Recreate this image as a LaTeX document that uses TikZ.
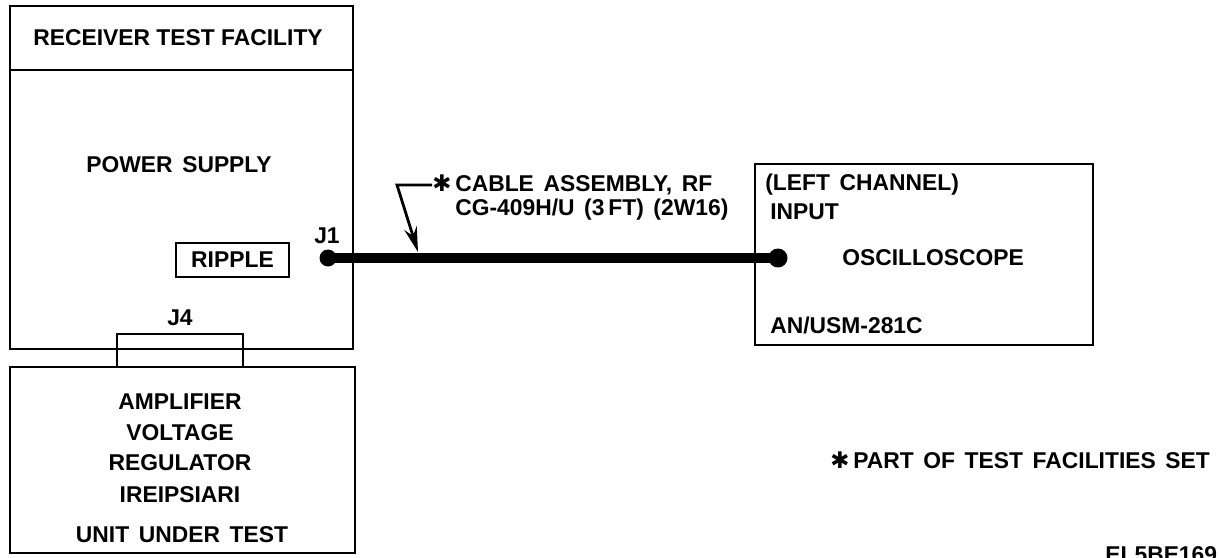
\documentclass[tikz,border=0pt]{standalone}
\usepackage{fontspec}
\setmainfont{Liberation Sans}
\newfontfamily\symfont{DejaVu Sans}
\usepackage{tikz}
\usetikzlibrary{arrows.meta,positioning}

\newcommand{\starmark}{{\symfont\bfseries ✱}}
\newcommand{\widefont}{\fontsize{13}{15}\selectfont\bfseries\spaceskip=0.42em\relax}

\begin{document}
\begin{tikzpicture}[x=0.2mm, y=-0.2mm,
      blk/.style={draw, line width=1.5pt, inner sep=0pt},
      jack/.style={circle, fill, inner sep=0pt, minimum size=#1},
      txt/.style={inner sep=0pt, font=\fontsize{13}{15}\selectfont\bfseries},
      wide/.style={txt, font=\widefont},
      >=Stealth]
    \useasboundingbox (0,0) rectangle (1219,558);
    % receiver test facility
    \node[blk, minimum width=68.6mm, minimum height=68.6mm] (psu) at (181.5,177.5) {};
    \draw[line width=1.5pt] (psu.west |- 0,70) -- (psu.east |- 0,70);
    \node[txt] (rtf) at (178,38) {RECEIVER TEST FACILITY};
    \node[wide] (pwr) at (179,165) {POWER SUPPLY};
    \node[blk, txt, minimum width=22.6mm, minimum height=6.8mm] (rip) at (232.5,260) {RIPPLE};
    \node[blk, minimum width=25.2mm, minimum height=6.6mm] (j4) at (180,350.5) {};
    \node[txt] (j4lbl) at (180,318) {J4};
    % unit under test
    \node[blk, minimum width=69mm, minimum height=37.2mm] (uut) at (182.5,460) {};
    \node[txt] (amp) at (180,402) {AMPLIFIER};
    \node[txt] (volt) at (180,433) {VOLTAGE};
    \node[txt] (reg) at (180,463) {REGULATOR};
    \node[txt] (ref) at (180,495) {IREIPSIARI};
    \node[wide] (unit) at (182,535) {UNIT UNDER TEST};
    % oscilloscope
    \node[blk, minimum width=67.6mm, minimum height=36.2mm] (osc) at (924,254.5) {};
    \node[wide, anchor=west] (chan) at (765,185) {(LEFT CHANNEL)};
    \node[txt, anchor=west] (inp) at (770,212) {INPUT};
    \node[txt, anchor=west] (scope) at (842,258) {OSCILLOSCOPE};
    \node[txt, anchor=west] (model) at (770,325) {AN/USM-281C};
    % cable
    \node[jack=3.4mm] (j1) at (328,258) {};
    \node[txt] (j1lbl) at (327,236) {J1};
    \node[jack=3.8mm] (jin) at (778,258) {};
    \draw[line width=6pt] (j1.center) -- (jin.center);
    \node[wide, anchor=west] (cab1) at (432,185) {\starmark\,CABLE ASSEMBLY, RF};
    \node[wide, anchor=west] (cab2) at (455,210) {CG-409H/U (3\,FT) (2W16)};
    \coordinate (bend) at (397,185);
    \coordinate (tip) at (418,252);
    \draw[->, line width=1.6pt, >={Stealth[length=5mm, width=2.6mm]}] (cab1.west) -- (bend) -- (tip);
    % notes
    \node[wide, anchor=west] (note) at (830,460) {\starmark\,PART OF TEST FACILITIES SET};
    \node[txt, anchor=west] (fig) at (1105,555) {EL5BE169};
\end{tikzpicture}
\end{document}
